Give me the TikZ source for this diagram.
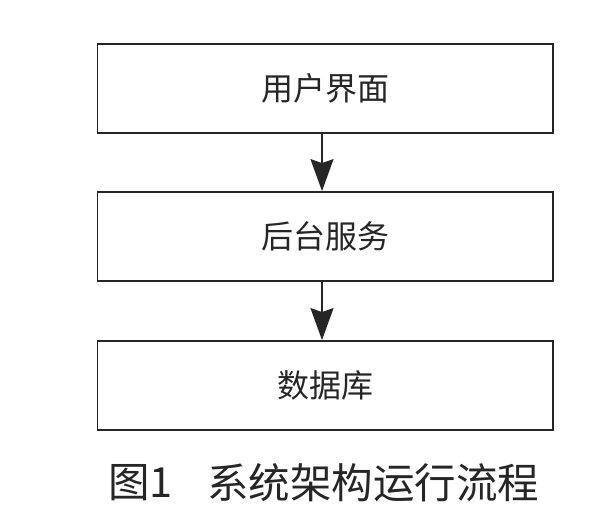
\documentclass[tikz,border=0pt]{standalone}
\usepackage{fontspec}
\newfontfamily\cjk{Noto Sans CJK SC}
\usetikzlibrary{arrows.meta}
\begin{document}
\begin{tikzpicture}[x=1pt,y=1pt,
  stagebox/.style={draw=black!85, line width=1.8pt, minimum width=455.5pt, minimum height=89pt, inner sep=0pt, font=\cjk\fontsize{32}{36}\selectfont, text=black!85},
  flowarrow/.style={draw=black!85, line width=1.8pt, -{Stealth[length=32pt, width=23pt, inset=4pt]}},
  captext/.style={inner sep=0pt, font=\cjk\fontsize{41.5}{48}\selectfont, text=black!85}]
\useasboundingbox (0,0) rectangle (600,530);
\fill[white] (0,0) rectangle (600,530);
\node[stagebox] (ui) at (325.25,441.5) {用户界面};
\node[stagebox] (svc) at (325.25,293.5) {后台服务};
\node[stagebox] (db) at (325.25,144.5) {数据库};
\draw[flowarrow] (ui.south -| 322,0) -- (svc.north -| 322,0);
\draw[flowarrow] (svc.south -| 322,0) -- (db.north -| 322,0);
\node[captext, anchor=west] (capnum) at (108,47) {图1};
\node[captext, anchor=west] (captitle) at (207,47) {系统架构运行流程};
\end{tikzpicture}
\end{document}
